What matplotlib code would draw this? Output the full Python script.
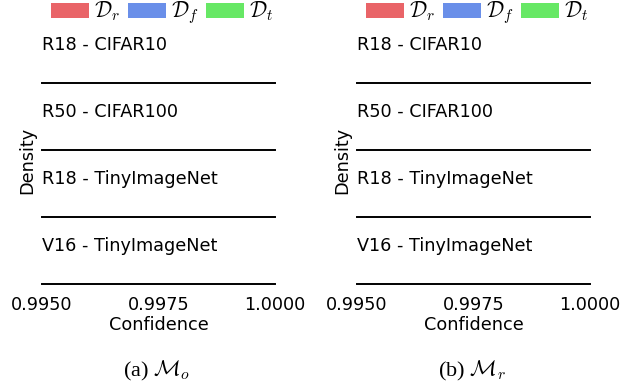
import matplotlib
matplotlib.use('Agg')
import matplotlib.pyplot as plt
from matplotlib.patches import Patch

plt.rcParams['font.family'] = ['DejaVu Sans']
plt.rcParams['mathtext.fontset'] = 'cm'

# data
rows = ['R18 - CIFAR10', 'R50 - CIFAR100', 'R18 - TinyImageNet', 'V16 - TinyImageNet']
series = [r'$\mathcal{D}_r$', r'$\mathcal{D}_f$', r'$\mathcal{D}_t$']
series_colors = ['#e96468', '#6a8fe9', '#67e865']
xticks = [0.9950, 0.9975, 1.0000]
xlim = (0.9950, 1.0000)
panels = [r'(a) $\mathcal{M}_o$', r'(b) $\mathcal{M}_r$']

W, H = 635, 386
fig = plt.figure(figsize=(W / 100, H / 100), dpi=100)

panel_left = [42, 357]
panel_w = 233
row_h = 67
first_line = 83

for p, caption in enumerate(panels):
    x0 = panel_left[p]
    for i, name in enumerate(rows):
        ybot = first_line + row_h * i
        ax = fig.add_axes([x0 / W, 1 - ybot / H, panel_w / W, row_h / H])
        ax.set_xlim(*xlim)
        ax.set_ylim(0, 1)
        for s in ['top', 'right', 'left']:
            ax.spines[s].set_visible(False)
        ax.spines['bottom'].set_linewidth(1.4)
        ax.set_yticks([])
        ax.patch.set_alpha(0)
        ax.text(0.0, 0.57, name, transform=ax.transAxes, ha='left', va='center', fontsize=12.7)
        if i == len(rows) - 1:
            ax.set_xticks(xticks)
            ax.set_xticklabels([f'{t:.4f}' for t in xticks], fontsize=12.7)
            ax.tick_params(axis='x', length=0, pad=9)
            ax.set_xlabel('Confidence', fontsize=12.7, labelpad=1)
        else:
            ax.set_xticks([])
    cx = (x0 + panel_w / 2) / W
    handles = [Patch(facecolor=c, edgecolor='none') for c in series_colors]
    fig.legend(handles, series, loc='center', bbox_to_anchor=(cx + 4 / W, 1 - 13 / H), ncol=3,
               frameon=False, fontsize=15.5, handlelength=1.75, handleheight=0.72,
               handletextpad=0.24, columnspacing=0.35, borderpad=0, borderaxespad=0)
    fig.text((x0 - 15) / W, 1 - 160 / H, 'Density', rotation=90, ha='center', va='center', fontsize=12.7)
    fig.text(cx - 2 / W, 1 - 371 / H, caption, ha='center', va='center', fontsize=16,
             family=['Liberation Serif', 'DejaVu Serif'])

fig.savefig('out.png', dpi=100)
